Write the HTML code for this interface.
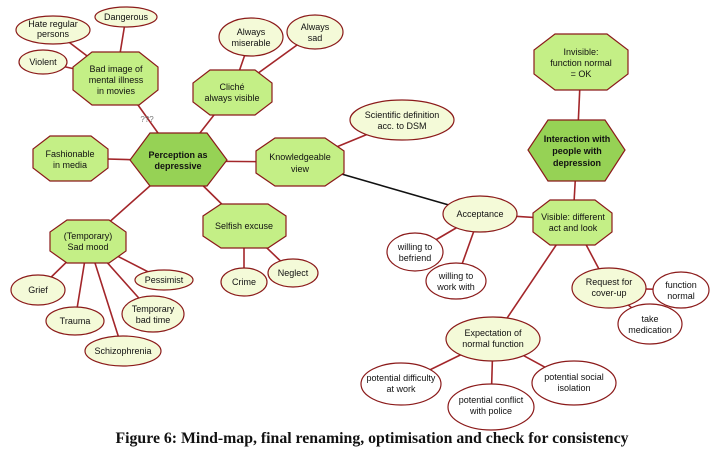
<!DOCTYPE html>
<html><head><meta charset="utf-8"><style>
html,body{margin:0;padding:0;background:#fff;width:711px;height:454px;overflow:hidden}
svg text{font-family:"Liberation Sans",sans-serif;font-size:9px;fill:#111;text-anchor:middle}
.e{fill:#f4fad8;stroke:#8b1a1a;stroke-width:1.2}
.w{fill:#fff;stroke:#8b1a1a;stroke-width:1.2}
.o{fill:#c4ef86;stroke:#8b1a1a;stroke-width:1.2}
.h{fill:#96d255;stroke:#8b1a1a;stroke-width:1.2}
line{stroke:#a3262a;stroke-width:1.6}
.b{font-weight:bold}
</style></head><body>
<svg width="711" height="454" xmlns="http://www.w3.org/2000/svg">
<g>
<line x1="53" y1="30" x2="116" y2="78"/><line x1="126" y1="17" x2="116" y2="78"/><line x1="43" y1="62" x2="116" y2="78"/>
<line x1="138" y1="105" x2="158" y2="133"/>
<line x1="251" y1="37" x2="232" y2="92"/><line x1="315" y1="32" x2="232" y2="92"/><line x1="232" y1="92" x2="178" y2="161"/>
<line x1="70" y1="158" x2="178" y2="161"/><line x1="178" y1="161" x2="300" y2="162"/>
<line x1="300" y1="162" x2="402" y2="120"/>
<line x1="300" y1="162" x2="480" y2="214" style="stroke:#111"/>
<line x1="178" y1="161" x2="88" y2="241"/><line x1="178" y1="161" x2="244" y2="226"/>
<line x1="88" y1="241" x2="38" y2="290"/><line x1="88" y1="241" x2="75" y2="321"/><line x1="88" y1="241" x2="123" y2="351"/><line x1="88" y1="241" x2="153" y2="314"/><line x1="88" y1="241" x2="164" y2="280"/>
<line x1="244" y1="226" x2="244" y2="282"/><line x1="244" y1="226" x2="293" y2="273"/>
<line x1="581" y1="62" x2="577" y2="150"/><line x1="577" y1="150" x2="573" y2="220"/>
<line x1="480" y1="214" x2="573" y2="220"/><line x1="480" y1="214" x2="415" y2="252"/><line x1="480" y1="214" x2="456" y2="281"/>
<line x1="573" y1="220" x2="609" y2="288"/><line x1="573" y1="220" x2="493" y2="339"/>
<line x1="609" y1="288" x2="681" y2="290"/><line x1="609" y1="288" x2="650" y2="324"/>
<line x1="493" y1="339" x2="401" y2="384"/><line x1="493" y1="339" x2="491" y2="407"/><line x1="493" y1="339" x2="574" y2="383"/>
</g>
<ellipse class="e" cx="53" cy="30" rx="37" ry="14"/><text x="53" y="27">Hate regular</text><text x="53" y="37">persons</text>
<ellipse class="e" cx="126" cy="17" rx="31" ry="10"/><text x="126" y="20">Dangerous</text>
<ellipse class="e" cx="43" cy="62" rx="24" ry="12"/><text x="43" y="65">Violent</text>
<polygon class="o" points="92,52 139,52 158,67 158,90 139,105 92,105 73,90 73,67"/><text x="116" y="72">Bad image of</text><text x="116" y="83">mental illness</text><text x="116" y="94">in movies</text>
<text x="147" y="122" style="font-size:8px;fill:#777">???</text>
<ellipse class="e" cx="251" cy="37" rx="32" ry="19"/><text x="251" y="35">Always</text><text x="251" y="46">miserable</text>
<ellipse class="e" cx="315" cy="32" rx="28" ry="17"/><text x="315" y="30">Always</text><text x="315" y="41">sad</text>
<polygon class="o" points="210,70 255,70 272,83 272,102 255,115 210,115 193,102 193,83"/><text x="232" y="90">Cliché</text><text x="232" y="101">always visible</text>
<polygon class="h" points="150,133 207,133 227,160 207,186 150,186 130,160"/><text class="b" x="178" y="158">Perception as</text><text class="b" x="178" y="169">depressive</text>
<polygon class="o" points="50,136 91,136 108,149 108,168 91,181 50,181 33,168 33,149"/><text x="70" y="157">Fashionable</text><text x="70" y="168">in media</text>
<polygon class="o" points="275,138 325,138 344,151 344,173 325,186 275,186 256,173 256,151"/><text x="300" y="160">Knowledgeable</text><text x="300" y="172">view</text>
<ellipse class="e" cx="402" cy="120" rx="52" ry="20"/><text x="402" y="118">Scientific definition</text><text x="402" y="129">acc. to DSM</text>
<polygon class="o" points="555,34 607,34 628,50 628,74 607,90 555,90 534,74 534,50"/><text x="581" y="55">Invisible:</text><text x="581" y="66">function normal</text><text x="581" y="77">= OK</text>
<polygon class="h" points="548,120 605,120 625,150 605,181 548,181 528,150"/><text class="b" x="577" y="142">Interaction with</text><text class="b" x="577" y="154">people with</text><text class="b" x="577" y="166">depression</text>
<ellipse class="e" cx="480" cy="214" rx="37" ry="18"/><text x="480" y="217">Acceptance</text>
<polygon class="o" points="550,200 595,200 612,213 612,232 595,245 550,245 533,232 533,213"/><text x="573" y="220">Visible: different</text><text x="573" y="231">act and look</text>
<ellipse class="w" cx="415" cy="252" rx="28" ry="19"/><text x="415" y="250">willing to</text><text x="415" y="261">befriend</text>
<ellipse class="w" cx="456" cy="281" rx="30" ry="18"/><text x="456" y="279">willing to</text><text x="456" y="290">work with</text>
<ellipse class="e" cx="609" cy="288" rx="37" ry="20"/><text x="609" y="285">Request for</text><text x="609" y="296">cover-up</text>
<ellipse class="w" cx="681" cy="290" rx="28" ry="18"/><text x="681" y="288">function</text><text x="681" y="299">normal</text>
<ellipse class="w" cx="650" cy="324" rx="32" ry="20"/><text x="650" y="322">take</text><text x="650" y="333">medication</text>
<ellipse class="e" cx="493" cy="339" rx="47" ry="22"/><text x="493" y="336">Expectation of</text><text x="493" y="347">normal function</text>
<ellipse class="w" cx="401" cy="384" rx="40" ry="21"/><text x="401" y="381">potential difficulty</text><text x="401" y="392">at work</text>
<ellipse class="w" cx="491" cy="407" rx="43" ry="23"/><text x="491" y="403">potential conflict</text><text x="491" y="414">with police</text>
<ellipse class="w" cx="574" cy="383" rx="42" ry="22"/><text x="574" y="380">potential social</text><text x="574" y="391">isolation</text>
<polygon class="o" points="67,220 109,220 126,232 126,251 109,263 67,263 50,251 50,232"/><text x="88" y="239">(Temporary)</text><text x="88" y="250">Sad mood</text>
<polygon class="o" points="221,204 268,204 286,216 286,236 268,248 221,248 203,236 203,216"/><text x="244" y="229">Selfish excuse</text>
<ellipse class="e" cx="38" cy="290" rx="27" ry="15"/><text x="38" y="293">Grief</text>
<ellipse class="e" cx="75" cy="321" rx="29" ry="14"/><text x="75" y="324">Trauma</text>
<ellipse class="e" cx="123" cy="351" rx="38" ry="15"/><text x="123" y="354">Schizophrenia</text>
<ellipse class="e" cx="153" cy="314" rx="31" ry="18"/><text x="153" y="312">Temporary</text><text x="153" y="323">bad time</text>
<ellipse class="e" cx="164" cy="280" rx="29" ry="10"/><text x="164" y="283">Pessimist</text>
<ellipse class="e" cx="244" cy="282" rx="23" ry="14"/><text x="244" y="285">Crime</text>
<ellipse class="e" cx="293" cy="273" rx="25" ry="14"/><text x="293" y="276">Neglect</text>
<text x="372" y="443" style="font-family:'Liberation Serif',serif;font-size:15.8px;font-weight:bold">Figure 6: Mind-map, final renaming, optimisation and check for consistency</text>
</svg>
</body></html>
